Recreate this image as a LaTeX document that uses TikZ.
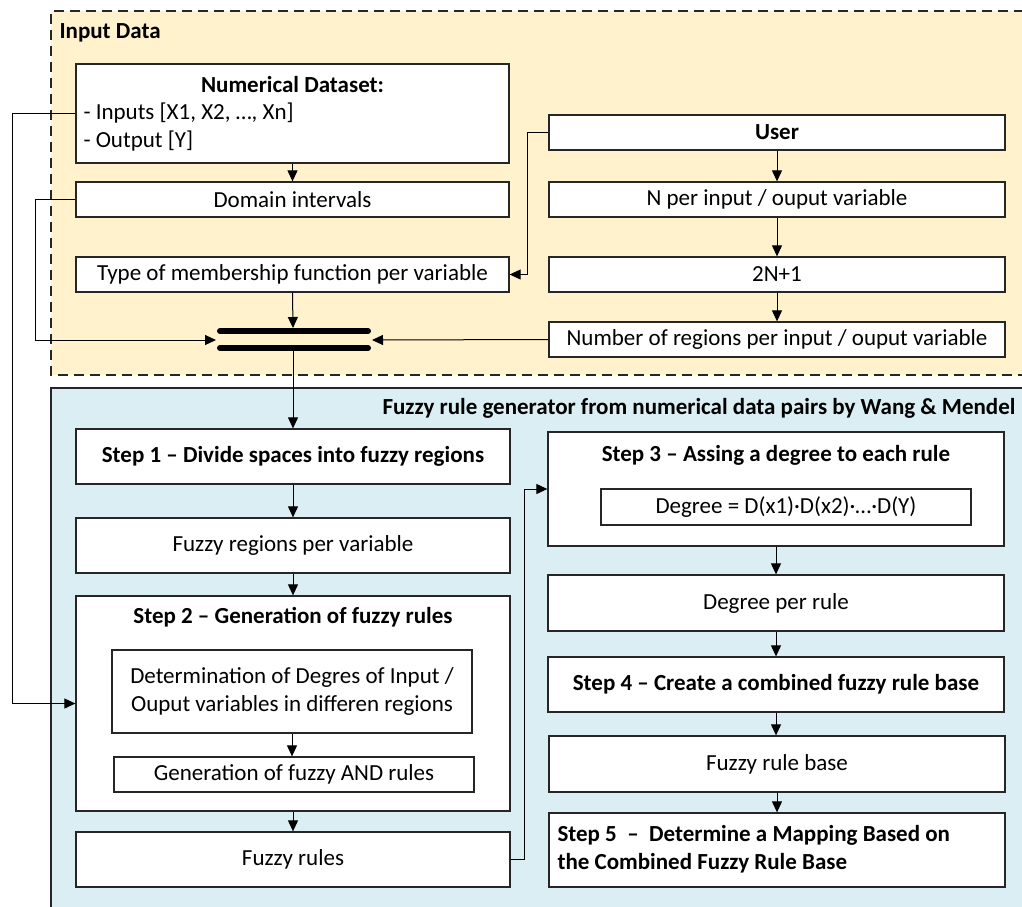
\documentclass[tikz,border=0pt]{standalone}
\usepackage{fontspec}
\setmainfont{Carlito}
\usetikzlibrary{arrows.meta}
\definecolor{inbg}{HTML}{FFF2CC}
\definecolor{fzbg}{HTML}{DAEEF3}
\definecolor{bord}{HTML}{262626}
\newcommand{\fsz}{\fontsize{23}{27.5}\selectfont}
\tikzset{
  box/.style={draw=bord, line width=1.3pt, fill=white, inner sep=0pt, align=center, font=\fsz},
  bbox/.style={box, font=\fsz\bfseries},
  conn/.style={draw=black, line width=1pt, -{Triangle[length=11pt,width=10pt]}},
  bar/.style={line width=6pt, line cap=round, black},
}
\begin{document}
\begin{tikzpicture}[x=1pt,y=-1pt]
\useasboundingbox (0,0) rectangle (1022,906);
% containers
\fill[inbg] (51,11) rectangle (1040,375);
\draw[bord, line width=1.3pt, dash pattern=on 10pt off 6pt] (1040,11) -- (51,11) -- (51,375) -- (1040,375);
\fill[fzbg] (51,388) rectangle (1040,920);
\draw[bord, line width=1.3pt] (1040,388) -- (51,388) -- (51,920);
\node[anchor=west, font=\fsz\bfseries] (tin) at (56,33) {Input Data};
\node[anchor=east, font=\fsz\bfseries] (tfz) at (1019,408) {Fuzzy rule generator from numerical data pairs by Wang \& Mendel};
% input data boxes
\node[box, minimum width=433, minimum height=99] (nd) at (292.5,113.5) {};
\node[font=\fsz\bfseries] (ndt) at (292.5,85) {Numerical Dataset:};
\node[anchor=west, align=left, font=\fsz] (ndl) at (80,127) {- Inputs [X1, X2, …, Xn]\\- Output [Y]};
\node[box, minimum width=433, minimum height=35] (dom) at (292.5,199.5) {Domain intervals};
\node[box, minimum width=433, minimum height=35] (typ) at (292.5,274.5) {Type of membership function per variable};
\node[box, minimum width=456, minimum height=35] (usr) at (777,132.5) {\bfseries User};
\node[box, minimum width=456, minimum height=35] (npi) at (777,199.5) {N per input / ouput variable};
\node[box, minimum width=456, minimum height=35] (twn) at (777,274.5) {2N+1};
\node[box, minimum width=456, minimum height=35] (nrg) at (777,339.5) {Number of regions per input / ouput variable};
% bars
\coordinate (b1l) at (220,331); \coordinate (b1r) at (368,331);
\coordinate (b2l) at (220,348); \coordinate (b2r) at (368,348);
\draw[bar] (b1l) -- (b1r);
\draw[bar] (b2l) -- (b2r);
\coordinate (bin) at (293,328);
\coordinate (bout) at (293,351);
\coordinate (bL) at (216,340);
\coordinate (bR) at (372,340);
% fuzzy boxes
\node[bbox, minimum width=434, minimum height=55] (s1) at (293,456.5) {Step 1 -- Divide spaces into fuzzy regions};
\node[box, minimum width=434, minimum height=55] (fr) at (293,545.5) {Fuzzy regions per variable};
\node[box, minimum width=434, minimum height=215] (s2) at (293,703.5) {};
\node[font=\fsz\bfseries] (s2t) at (293,617) {Step 2 -- Generation of fuzzy rules};
\node[box, minimum width=360, minimum height=83] (det) at (292,691.5) {Determination of Degres of Input /\\Ouput variables in differen regions};
\node[box, minimum width=360, minimum height=35] (gen) at (294,774.5) {Generation of fuzzy AND rules};
\node[box, minimum width=434, minimum height=55] (rul) at (293,859.5) {Fuzzy rules};
\node[box, minimum width=456, minimum height=114] (s3) at (776,489) {};
\node[font=\fsz\bfseries] (s3t) at (776,455) {Step 3 -- Assing a degree to each rule};
\node[box, minimum width=370, minimum height=36] (deg) at (786,507) {Degree = D(x1)·D(x2)·…·D(Y)};
\node[box, minimum width=456, minimum height=56] (dpr) at (776,603) {Degree per rule};
\node[bbox, minimum width=456, minimum height=55] (s4) at (776,684.5) {Step 4 -- Create a combined fuzzy rule base};
\node[box, minimum width=456, minimum height=56] (frb) at (777,764) {Fuzzy rule base};
\node[box, minimum width=456, minimum height=74] (s5) at (777,850) {};
\node[anchor=west, align=left, font=\fsz\bfseries] (s5t) at (554,849) {Step 5\ \ -- \ Determine a Mapping Based on\\the Combined Fuzzy Rule Base};
% connectors input
\draw[conn] (nd.south) -- (dom.north);
\draw[conn] (dom.west) -- (35,199.5) -- (35,340) -- (bL);
\draw[conn] (typ.south) -- (bin);
\draw[conn] (usr.west) -- (527,132.5) -- (527,274.5) -- (typ.east);
\draw[conn] (nrg.west) -- (bR);
\draw[conn] (usr.south) -- (npi.north);
\draw[conn] (npi.south) -- (twn.north);
\draw[conn] (twn.south) -- (nrg.north);
\draw[conn] (bout) -- (s1.north);
\draw[conn] (nd.west) -- (12,113.5) -- (12,703.5) -- (s2.west);
% connectors fuzzy
\draw[conn] (s1.south) -- (fr.north);
\draw[conn] (fr.south) -- (s2.north);
\draw[conn] (det.south) -- (det.south |- gen.north);
\draw[conn] (s2.south) -- (rul.north);
\draw[conn] (rul.east) -- (524,859.5) -- (524,489) -- (s3.west);
\draw[conn] (s3.south) -- (dpr.north);
\draw[conn] (dpr.south) -- (s4.north);
\draw[conn] (s4.south) -- (s4.south |- frb.north);
\draw[conn] (frb.south) -- (s5.north);
\end{tikzpicture}
\end{document}
